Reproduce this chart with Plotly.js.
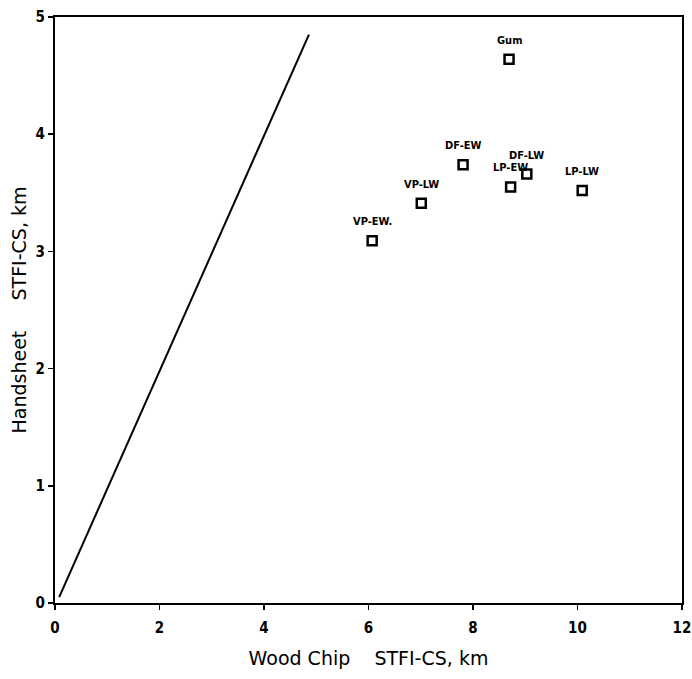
<!DOCTYPE html>
<html>
<head>
<meta charset="utf-8">
<script src="https://cdn.plot.ly/plotly-3.0.1.min.js"></script>
<style>html,body{margin:0;padding:0;background:#fff;}#chart{width:692px;height:679px;}</style>
</head>
<body>
<div id="chart"></div>
<script>
const labels = ["Gum", "DF-EW", "DF-LW", "LP-EW", "LP-LW", "VP-LW", "VP-EW."];
const woodChip = [8.69, 7.81, 9.03, 8.72, 10.09, 7.01, 6.07];
const handsheet = [4.64, 3.74, 3.66, 3.55, 3.52, 3.41, 3.09];
const lineX = [0.08, 4.86];
const lineY = [0.05, 4.85];
const xTicks = [0, 2, 4, 6, 8, 10, 12];
const yTicks = [0, 1, 2, 3, 4, 5];

const traces = [
  {x: lineX, y: lineY, mode: 'lines', line: {color: '#000', width: 2}, hoverinfo: 'skip'},
  {x: woodChip, y: handsheet, mode: 'markers',
   marker: {symbol: 'square-open', size: 9, color: '#000', line: {width: 2.5, color: '#000'}}}
];

const annotations = labels.map((t, i) => ({
  x: woodChip[i], y: handsheet[i], text: '<b>' + t + '</b>', showarrow: false,
  yshift: 19, font: {family: 'Liberation Sans Narrow, DejaVu Sans Condensed, Arial', size: 11, color: '#000'}
}));

const layout = {
  width: 692, height: 679,
  margin: {l: 55, r: 10, t: 17, b: 76},
  paper_bgcolor: '#fff', plot_bgcolor: '#fff',
  showlegend: false,
  font: {family: 'DejaVu Sans, Arial', color: '#000'},
  xaxis: {
    range: [0, 12], tickvals: xTicks, ticktext: xTicks.map(v => '<b>' + v + '</b>'),
    ticks: 'outside', ticklen: 5, tickwidth: 1.5, tickcolor: '#000', ticklabelstandoff: 5,
    showline: true, linecolor: '#000', linewidth: 2, mirror: true,
    showgrid: false, zeroline: false,
    tickfont: {size: 15, family: 'DejaVu Sans Condensed, DejaVu Sans', color: '#000'},
    title: {text: 'Wood Chip&nbsp;&nbsp;&nbsp;&nbsp;STFI-CS, km', font: {size: 19, family: 'DejaVu Sans', color: '#000'}, standoff: 16}
  },
  yaxis: {
    range: [0, 5], tickvals: yTicks, ticktext: yTicks.map(v => '<b>' + v + '</b>'),
    ticks: 'outside', ticklen: 5, tickwidth: 1.5, tickcolor: '#000',
    showline: true, linecolor: '#000', linewidth: 2, mirror: true,
    showgrid: false, zeroline: false,
    tickfont: {size: 15, family: 'DejaVu Sans Condensed, DejaVu Sans', color: '#000'},
    title: {text: 'Handsheet&nbsp;&nbsp;&nbsp;&nbsp;&nbsp;STFI-CS, km', font: {size: 19, family: 'DejaVu Sans', color: '#000'}, standoff: 4}
  },
  annotations: annotations
};

Plotly.newPlot('chart', traces, layout, {displayModeBar: false, staticPlot: true});
</script>
</body>
</html>
